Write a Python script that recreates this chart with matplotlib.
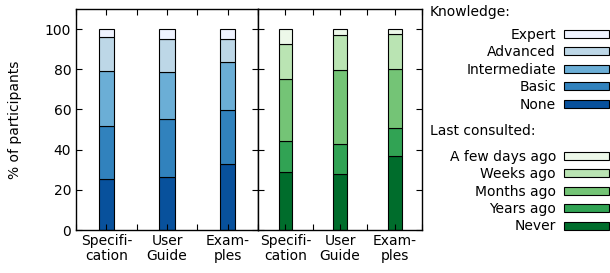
import numpy as np
import matplotlib
matplotlib.use("Agg")
import matplotlib.pyplot as plt

# documents shown on the x axis
docs = ["Specifi-\ncation", "User\nGuide", "Exam-\nples"]

# knowledge levels (bottom to top), % of participants
knowledge_levels = ["None", "Basic", "Intermediate", "Advanced", "Expert"]
know_none = [25.6, 26.2, 32.9]
know_basic = [26.2, 28.9, 26.7]
know_inter = [27.4, 23.5, 24.1]
know_adv = [16.8, 16.7, 11.6]
know_expert = [4.0, 4.7, 4.7]

# last consulted (bottom to top), % of participants
consult_levels = ["Never", "Years ago", "Months ago", "Weeks ago", "A few days ago"]
cons_never = [28.7, 27.9, 36.9]
cons_years = [15.5, 14.8, 14.1]
cons_months = [30.9, 36.9, 29.1]
cons_weeks = [17.4, 17.4, 17.4]
cons_days = [7.5, 3.0, 2.5]

blues = ["#08519c", "#3182bd", "#6baed6", "#bdd7e7", "#eff3ff"]
greens = ["#006d2c", "#31a354", "#74c476", "#bae4b3", "#edf8e9"]

plt.rcParams["font.family"] = "DejaVu Sans"
plt.rcParams["font.size"] = 10

fig = plt.figure(figsize=(6.1, 2.73), dpi=100)
ax1 = fig.add_axes([0.1246, 0.1575, 0.2984, 0.8095])
ax2 = fig.add_axes([0.4230, 0.1575, 0.2688, 0.8095])

x = np.arange(len(docs))
width = 0.25


def stack(ax, series, labels, colors):
    bottom = np.zeros(len(docs))
    handles = []
    for vals, lab, col in zip(series, labels, colors):
        vals = np.array(vals)
        h = ax.bar(x, vals, width, bottom=bottom, color=col, edgecolor="black",
                   linewidth=0.8, label=lab)
        handles.append(h)
        bottom += vals
    return handles


h1 = stack(ax1, [know_none, know_basic, know_inter, know_adv, know_expert],
           knowledge_levels, blues)
h2 = stack(ax2, [cons_never, cons_years, cons_months, cons_weeks, cons_days],
           consult_levels, greens)

for ax in (ax1, ax2):
    ax.set_xlim(-0.5, 2.5)
    ax.set_ylim(0, 110)
    ax.set_xticks(x)
    ax.set_xticks(np.arange(-0.5, 3, 0.5), minor=True)
    ax.set_xticklabels(docs, linespacing=1.1)
    ax.set_yticks(np.arange(0, 101, 20))
    ax.tick_params(direction="in", top=True, right=True, length=4.5, width=0.8,
                   which="both")
    ax.tick_params(axis="x", which="major", pad=3)
    for s in ax.spines.values():
        s.set_linewidth(1.0)

ax2.set_yticklabels([])
ax1.set_ylabel("% of participants")
ax1.yaxis.set_label_coords(-0.297, 0.5)

# legends (top entry first, labels left of the patches)
leg_kw = dict(loc="upper right", frameon=False, markerfirst=False,
              borderpad=0, borderaxespad=0, handlelength=3.2, handleheight=0.5,
              handletextpad=0.6, labelspacing=0.25)
fig.legend(h1[::-1], knowledge_levels[::-1], bbox_to_anchor=(0.998, 0.898), **leg_kw)
fig.legend(h2[::-1], consult_levels[::-1], bbox_to_anchor=(0.998, 0.452), **leg_kw)

fig.text(430 / 610, 1 - 12 / 273, "Knowledge:", ha="left", va="center")
fig.text(430 / 610, 1 - 131 / 273, "Last consulted:", ha="left", va="center")

fig.savefig("out.png", dpi=100)
